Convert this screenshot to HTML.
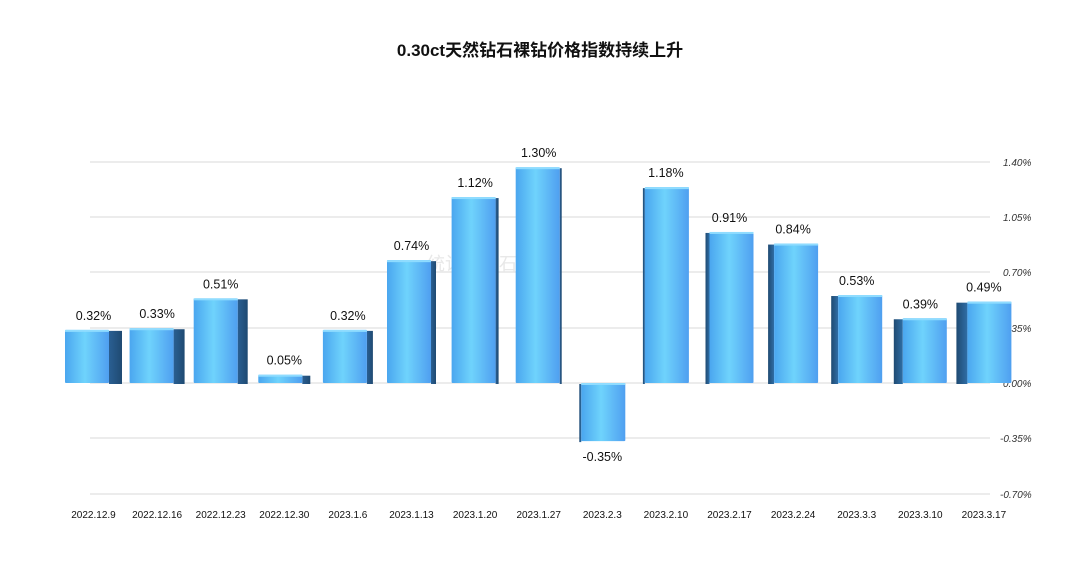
<!DOCTYPE html>
<html><head><meta charset="utf-8"><style>
html,body{margin:0;padding:0;background:#fff;}
svg{display:block;font-family:"Liberation Sans","Noto Sans CJK SC",sans-serif;}
</style></head><body>
<svg width="1080" height="562" viewBox="0 0 1080 562" xmlns="http://www.w3.org/2000/svg">
<defs>
<linearGradient id="fr" x1="0" x2="1" y1="0" y2="0">
<stop offset="0" stop-color="#4aa6ef"/><stop offset="0.45" stop-color="#6fd3fc"/><stop offset="1" stop-color="#4f9ff0"/>
</linearGradient>
<linearGradient id="sdR" x1="0" x2="1"><stop offset="0" stop-color="#2a5f92"/><stop offset="1" stop-color="#1f4a72"/></linearGradient>
<linearGradient id="sdL" x1="0" x2="1"><stop offset="0" stop-color="#1f4a72"/><stop offset="1" stop-color="#2f6ea6"/></linearGradient>
</defs>
<text x="540" y="56" text-anchor="middle" font-size="17" font-weight="bold" fill="#111">0.30ct天然钻石裸钻价格指数持续上升</text>
<g stroke="#e6e6e6" stroke-width="1.5">
<line x1="90" x2="990" y1="162" y2="162"/><line x1="90" x2="990" y1="217" y2="217"/>
<line x1="90" x2="990" y1="272" y2="272"/><line x1="90" x2="990" y1="328" y2="328"/>
<line x1="90" x2="990" y1="383" y2="383"/><line x1="90" x2="990" y1="438" y2="438"/>
<line x1="90" x2="990" y1="494" y2="494"/>
</g>
<g font-size="10" font-style="italic" fill="#333" text-anchor="start">
<text x="1003" y="166">1.40%</text><text x="1003" y="221">1.05%</text><text x="1003" y="276">0.70%</text>
<text x="1003" y="332">0.35%</text><text x="1003" y="387">0.00%</text><text x="1000" y="442">-0.35%</text><text x="1000" y="498">-0.70%</text>
</g>
<text x="490" y="270" text-anchor="middle" font-size="18" fill="#e8e8e8">统计：钻石观察</text>
<g id="bars"></g>
<g id="labels" font-size="12.5" fill="#111" text-anchor="middle"></g>
<g id="xl" font-size="10" fill="#111" text-anchor="middle"></g>
</svg>
<script>
(function(){
var vals=[0.32,0.33,0.51,0.05,0.32,0.74,1.12,1.30,-0.35,1.18,0.91,0.84,0.53,0.39,0.49];
var dates=["2022.12.9","2022.12.16","2022.12.23","2022.12.30","2023.1.6","2023.1.13","2023.1.20","2023.1.27","2023.2.3","2023.2.10","2023.2.17","2023.2.24","2023.3.3","2023.3.10","2023.3.17"];
var ns="http://www.w3.org/2000/svg",B=document.getElementById("bars"),L=document.getElementById("labels"),X=document.getElementById("xl");
function el(t,a,p){var e=document.createElementNS(ns,t);for(var k in a)e.setAttribute(k,a[k]);p.appendChild(e);return e;}
var z=383,s=166;
for(var i=0;i<15;i++){
 var cx=93.5+63.6*i, v=vals[i], sw=Math.max(2,Math.round(13*Math.abs(i-7.7)/7.7)), fw=44;
 var ty=v>=0?z-v*s:z, h=Math.abs(v)*s, fx;
 if(i<=7){fx=cx-(fw+sw)/2; el("rect",{x:fx+fw,y:ty+1,width:sw,height:h,fill:"url(#sdR)"},B);}
 else{fx=cx-(fw+sw)/2+sw; el("rect",{x:fx-sw,y:ty+1,width:sw,height:h,fill:"url(#sdL)"},B);}
 el("rect",{x:fx,y:ty,width:fw,height:h,fill:"url(#fr)",rx:1},B);
 el("rect",{x:fx,y:ty,width:fw,height:2,fill:"#8fdcff"},B);
 var t=el("text",{x:cx,y:v>=0?ty-10:z+h+20},L);t.textContent=v.toFixed(2)+"%";
 var d=el("text",{x:cx,y:518},X);d.textContent=dates[i];
}
})();
</script>
</body></html>
